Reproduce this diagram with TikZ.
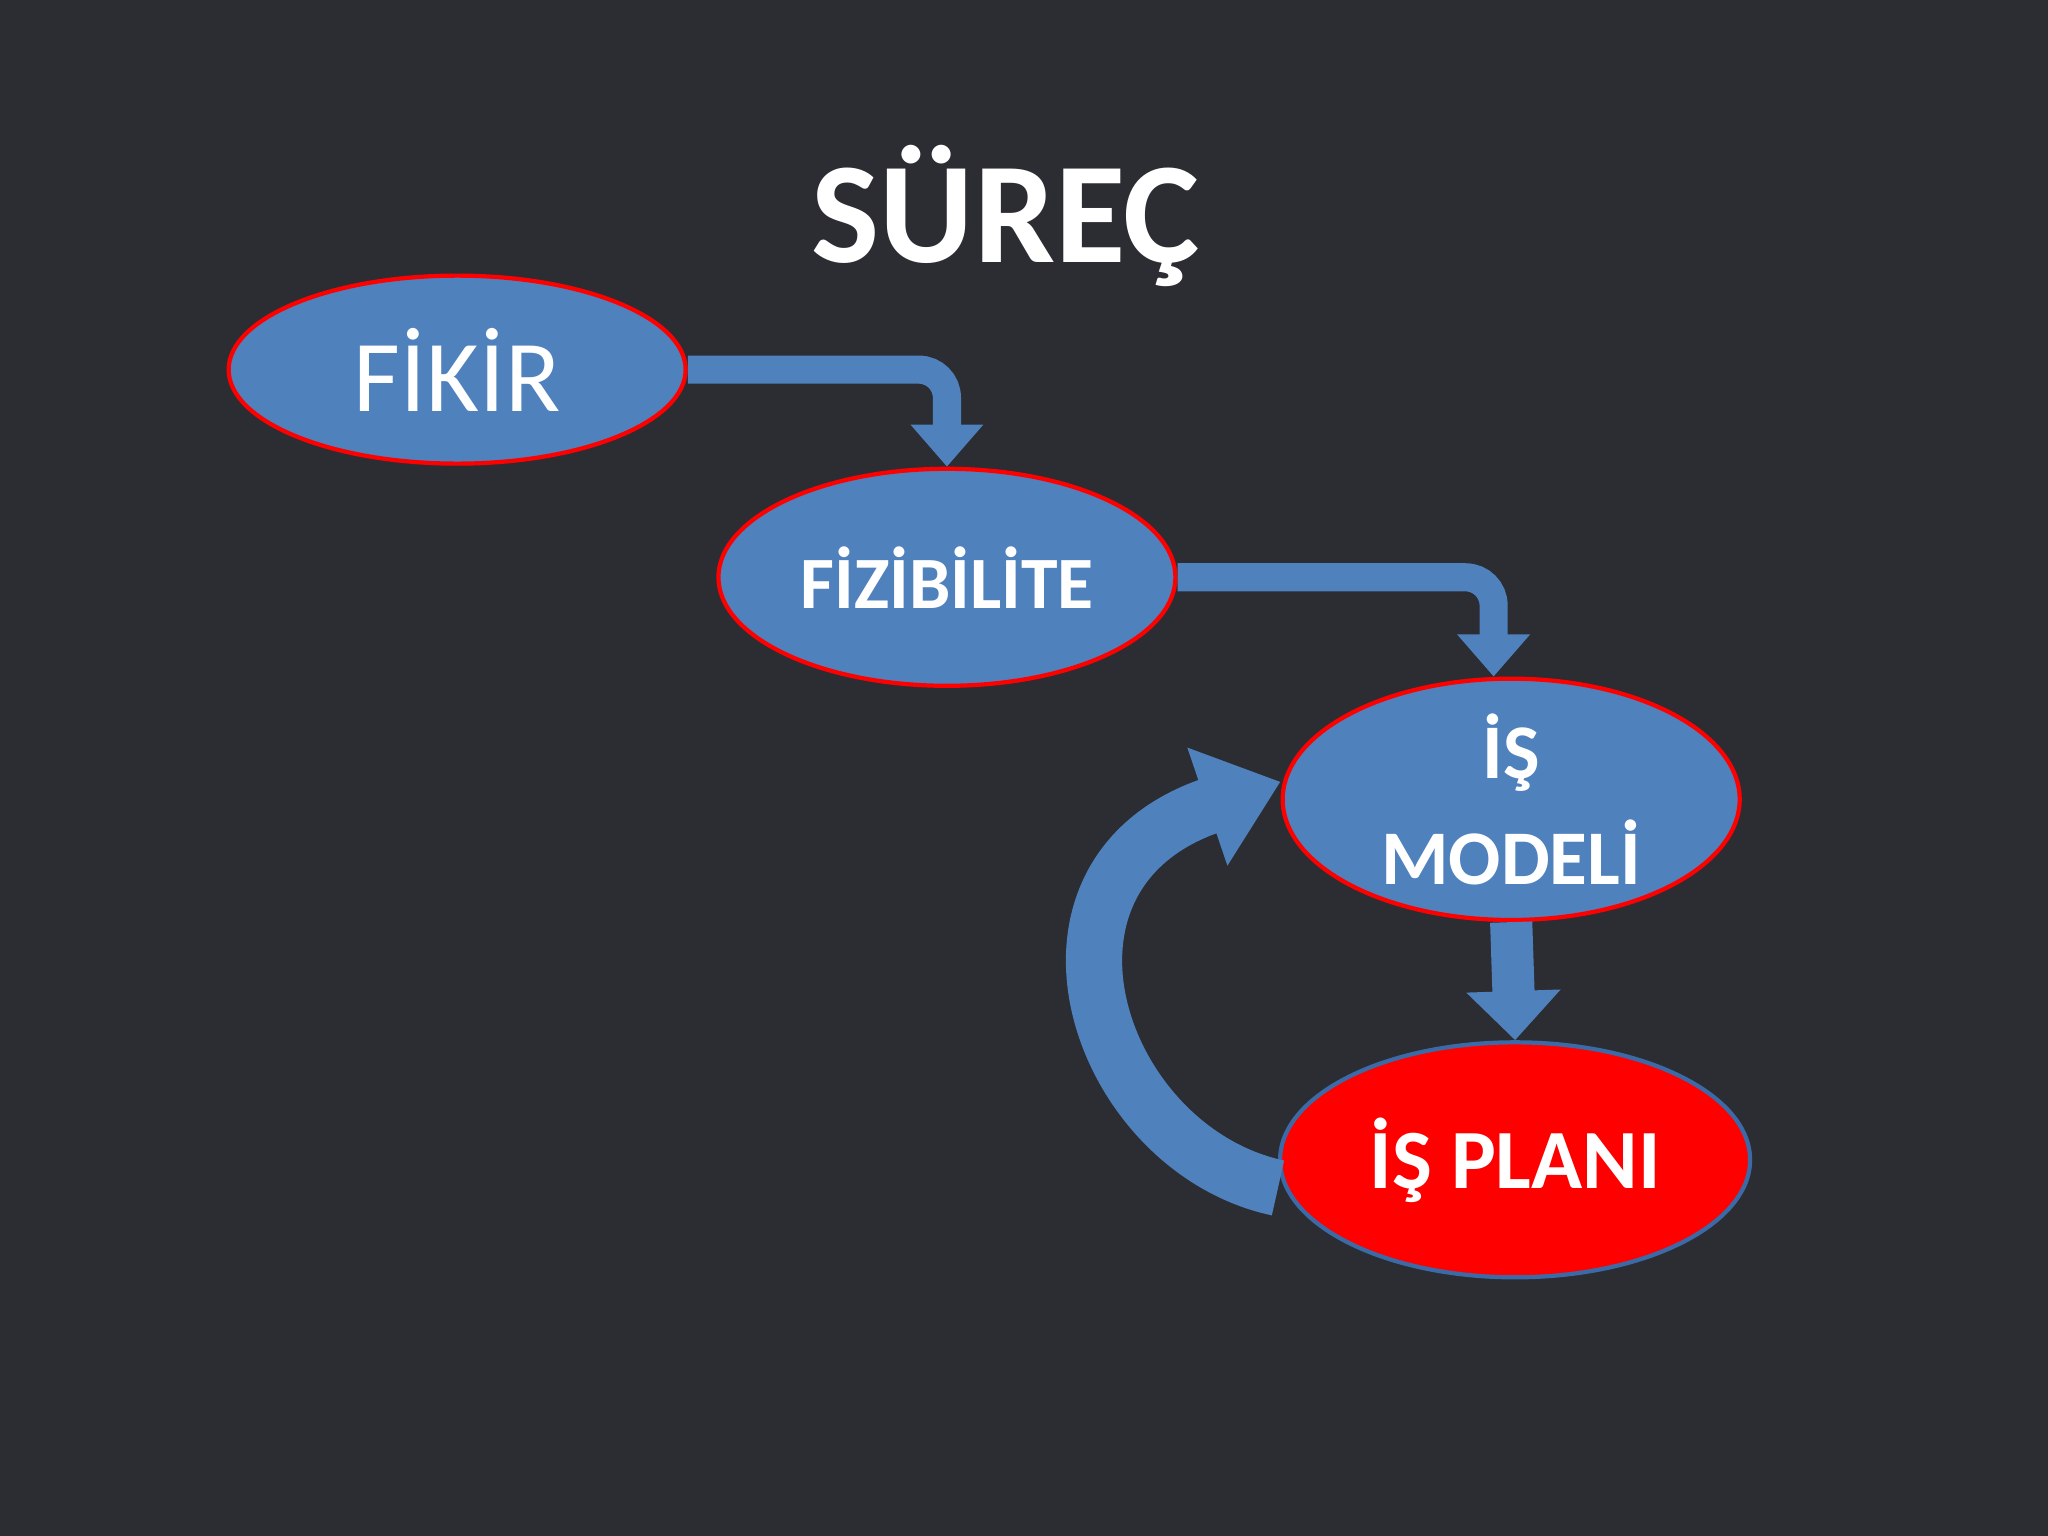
\documentclass[tikz,border=0pt]{standalone}
\usepackage{fontspec}
\setmainfont{Carlito}
\usetikzlibrary{arrows.meta,shapes.geometric,positioning}
\definecolor{bgdark}{HTML}{2B2D33}
\definecolor{boxblue}{HTML}{4F81BD}
\definecolor{edgeblue}{HTML}{3B6AA6}
\tikzset{stage/.style={ellipse,fill=boxblue,draw=red,line width=1.2pt,text=white,inner sep=0pt},
  flow/.style={draw=boxblue,line width=8pt,rounded corners=8pt,-{Triangle[length=12pt,width=20pt]}}}
\begin{document}
\begin{tikzpicture}[x=0.01306cm,y=-0.01306cm]
\fill[bgdark] (0,0) rectangle (1568,1176);
\useasboundingbox (0,0) rectangle (1568,1176);
\node[text=white,font=\bfseries\fontsize{41}{45}\selectfont] (title) at (770,165) {SÜREÇ};
\node[stage,minimum width=350\pgflinewidth*0+4.57cm,minimum height=1.88cm,font=\fontsize{29}{32}\selectfont] (fikir) at (350,283) {FİKİR};
\node[stage,minimum width=4.57cm,minimum height=2.17cm,font=\bfseries\fontsize{21}{24}\selectfont] (fiz) at (725,442) {FİZİBİLİTE};
\node[stage,minimum width=4.57cm,minimum height=2.17cm,align=center,font=\bfseries\fontsize{22}{30}\selectfont] (model) at (1157,612) {İŞ\\MODELİ};
\node[stage,fill=red,draw=edgeblue,minimum width=4.7cm,minimum height=2.35cm,font=\bfseries\fontsize{24}{28}\selectfont] (plan) at (1160,888) {İŞ PLANI};
\draw[flow] (fikir.east) -| (fiz.north);
\draw[flow] (fiz.east) -| ([xshift=-5]model.north);
\draw[flow,line width=12pt,-{Triangle[length=14pt,width=26pt]}] (model.south) -- (plan.north);
\draw[flow,line width=16pt,-{Triangle[length=22pt,width=34pt]}] ([yshift=-8]plan.west) .. controls (840,880) and (770,670) .. ([yshift=5]model.west);
\end{tikzpicture}
\end{document}
